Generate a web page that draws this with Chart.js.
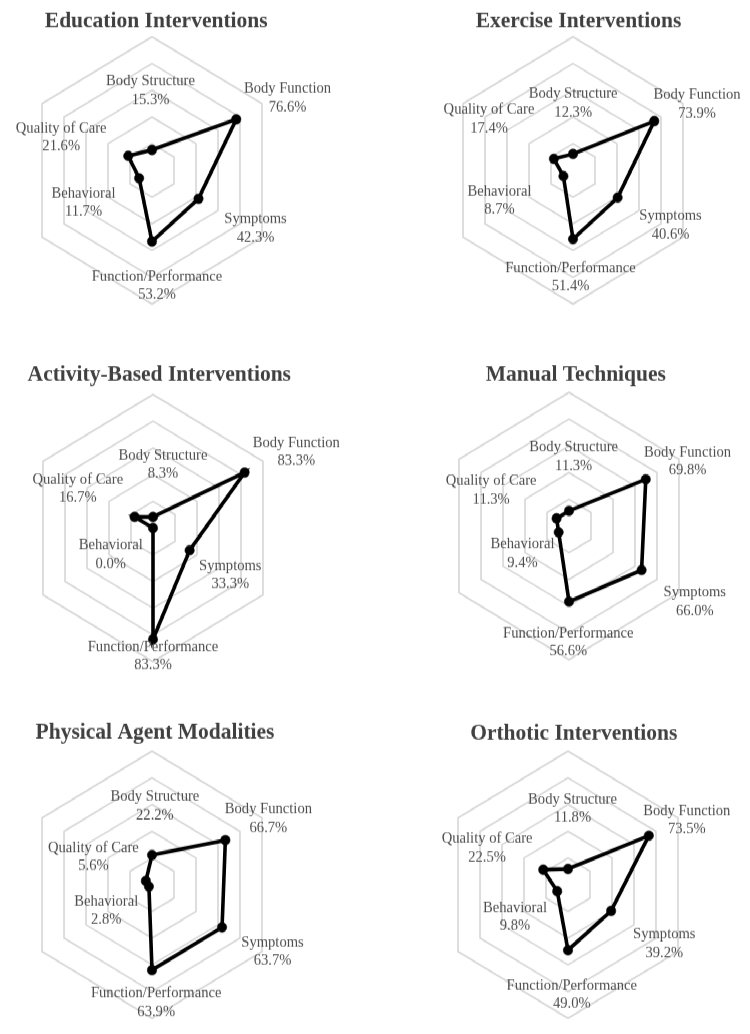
<!DOCTYPE html>
<html><head><meta charset="utf-8">
<script src="https://cdn.jsdelivr.net/npm/chart.js@4"></script>
<style>
html,body{margin:0;padding:0;background:#fff;overflow:hidden;width:750px;height:1034px}
#wrap{position:absolute;left:0;top:0;width:750px;height:983px;transform:scale(1,1.052);transform-origin:0 0}
canvas{position:absolute}
</style></head><body><div id="wrap"></div>
<script>
// ---- data ----
const categories = ["Body Structure","Body Function","Symptoms","Function/Performance","Behavioral","Quality of Care"];
const titles = ["Education Interventions","Exercise Interventions","Activity-Based Interventions","Manual Techniques","Physical Agent Modalities","Orthotic Interventions"];
const education = [15.3, 76.6, 42.3, 53.2, 11.7, 21.6];
const exercise  = [12.3, 73.9, 40.6, 51.4, 8.7, 17.4];
const activity  = [8.3, 83.3, 33.3, 83.3, 0.0, 16.7];
const manual    = [11.3, 69.8, 66.0, 56.6, 9.4, 11.3];
const physical  = [22.2, 66.7, 63.7, 63.9, 2.8, 5.6];
const orthotic  = [11.8, 73.5, 39.2, 49.0, 9.8, 22.5];
const seriesValues = [education, exercise, activity, manual, physical, orthotic];
const scaleMin = 0, scaleMax = 100, scaleStep = 20;

// ---- layout (panel placement, label anchor offsets from the scale centre) ----
const panelLayout = [
  {left:0,   top:0,   padLeft:25.5},
  {left:375, top:0,   padLeft:71.5},
  {left:0,   top:340, padLeft:26},
  {left:375, top:338, padLeft:67},
  {left:0,   top:679, padLeft:25.8},
  {left:375, top:679, padLeft:66.7}
];
const titleOffsets = [[4.2,-141.3],[5.5,-141.4],[6.3,-145.1],[6.8,-143.4],[3,-144.5],[5.8,-143.5]];
const labelOffsets = [
  [[-1.5,-75.9],[135.5,-68.8],[103.5,55.0],[5,109.7],[-68.5,30.5],[-90.8,-31.3]],
  [[0.2,-63.7],[124,-63.0],[97.5,52.0],[-2.5,101.7],[-73.5,28.8],[-84,-48.8]],
  [[10,-60.3],[143.3,-72.3],[77.3,44.9],[0,121.9],[-42.3,25.3],[-75.2,-37.5]],
  [[4.7,-65.7],[118.5,-61.2],[125.8,72.1],[-0.7,110.8],[-46.5,26.2],[-77.8,-33.9]],
  [[2.9,-74.7],[116.4,-62.8],[120.5,63.6],[4.2,112.1],[-45.8,24.9],[-58.6,-26.4]],
  [[4.5,-72.1],[118.8,-61.3],[96.3,56.0],[3.8,104.5],[-53,30.9],[-80.9,-35.0]]
];
const PANEL_W = 375, PANEL_H = 339, DIAM = 254;

const labelPlugin = {
  id: 'panelText',
  afterDatasetsDraw(chart, args, opts) {
    const ctx = chart.ctx;
    const s = chart.scales.r;
    const cx = s.xCenter, cy = s.yCenter;
    ctx.save();
    ctx.textAlign = 'center';
    ctx.textBaseline = 'middle';
    ctx.fillStyle = '#404040';
    ctx.font = 'bold 21.5px "Liberation Serif", "Times New Roman", serif';
    ctx.fillText(opts.title, cx + opts.titleOffset[0], cy + opts.titleOffset[1]);
    ctx.fillStyle = '#4d4d4d';
    ctx.font = '14.6px "Liberation Serif", "Times New Roman", serif';
    const vals = chart.data.datasets[0].data;
    chart.data.labels.forEach((lab, i) => {
      const o = opts.offsets[i];
      const x = cx + o[0], y = cy + o[1];
      ctx.fillText(lab, x, y - 8.7);
      ctx.fillText(vals[i].toFixed(1) + '%', x, y + 8.7);
    });
    ctx.restore();
  }
};

const wrap = document.getElementById('wrap');
seriesValues.forEach((vals, k) => {
  const L = panelLayout[k];
  const cv = document.createElement('canvas');
  cv.width = PANEL_W; cv.height = PANEL_H;
  cv.style.left = L.left + 'px'; cv.style.top = L.top + 'px';
  cv.style.width = PANEL_W + 'px'; cv.style.height = PANEL_H + 'px';
  wrap.appendChild(cv);
  new Chart(cv.getContext('2d'), {
    type: 'radar',
    data: {
      labels: categories,
      datasets: [{
        data: vals,
        borderColor: '#000',
        backgroundColor: '#000',
        borderWidth: 3.6,
        fill: false,
        pointRadius: 4.7,
        pointBorderWidth: 0.5,
        pointBackgroundColor: '#000',
        pointBorderColor: '#000',
        borderJoinStyle: 'miter'
      }]
    },
    options: {
      responsive: false,
      animation: false,
      devicePixelRatio: 1,
      layout: { padding: { left: L.padLeft, right: PANEL_W - L.padLeft - DIAM, top: 35, bottom: PANEL_H - 35 - DIAM } },
      plugins: {
        legend: { display: false },
        tooltip: { enabled: false },
        title: { display: false },
        panelText: { title: titles[k], titleOffset: titleOffsets[k], offsets: labelOffsets[k] }
      },
      scales: {
        r: {
          min: scaleMin, max: scaleMax,
          ticks: { display: false, stepSize: scaleStep },
          angleLines: { display: false },
          grid: { color: '#d6d6d6', lineWidth: 1.6 },
          pointLabels: { display: false }
        }
      }
    },
    plugins: [labelPlugin]
  });
});
</script></body></html>
